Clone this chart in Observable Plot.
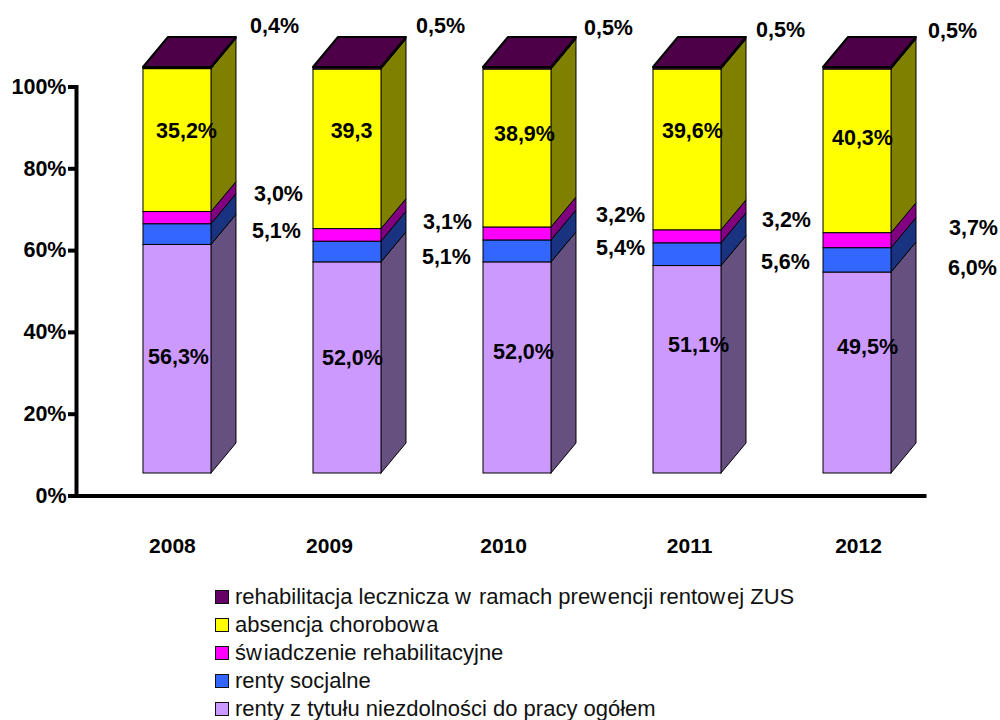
<!DOCTYPE html>
<html><head><meta charset="utf-8">
<script src="https://cdn.jsdelivr.net/npm/d3@7"></script>
<script src="https://cdn.jsdelivr.net/npm/@observablehq/plot@0.6"></script>
<style>
html,body{margin:0;padding:0;background:#fff;overflow:hidden}
#legend{position:absolute;left:215px;top:583px;font-family:"Liberation Sans",Arial,sans-serif;font-size:22px;line-height:28px;color:#111;white-space:pre}
#legend .row{display:flex;align-items:center;height:28px}
#legend .sw{width:12px;height:12px;border:1.5px solid #111;margin-right:6px;flex:none}
#legend .w{letter-spacing:.08em}
</style></head><body>
<div id="chart"></div><div id="legend"></div>
<script>
const years = ["2008","2009","2010","2011","2012"];
const rentyOgolem = [56.3,52.0,52.0,51.1,49.5];
const rentySocjalne = [5.1,5.1,5.4,5.6,6.0];
const swiadczenie = [3.0,3.1,3.2,3.2,3.7];
const absencja = [35.2,39.3,38.9,39.6,40.3];
const rehabilitacja = [0.4,0.5,0.5,0.5,0.5];
const absencjaLabels = ["35,2%","39,3","38,9%","39,6%","40,3%"];
const seriesNames = ["renty z tytułu niezdolności do pracy ogółem","renty socjalne","świadczenie rehabilitacyjne","absencja chorobowa","rehabilitacja lecznicza w ramach prewencji rentowej ZUS"];

const fronts = ["#CC99FF","#3366FF","#FF00FF","#FFFF00","#4D0047"];
const sides = ["#665080","#1A3380","#800080","#808000","#4D0047"];
const legendFills = ["#CC99FF","#3366FF","#FF00FF","#FFFF00","#660066"];
const seriesValues = [rentyOgolem,rentySocjalne,swiadczenie,absencja,rehabilitacja];

// where the reference puts each hand-placed label, in scale units
const labelX = [
  [0.006,1.029,2.035,3.065,4.059],
  [0.582,1.582,2.606,3.576,4.676],
  [0.594,1.588,2.606,3.582,4.682],
  [0.053,1.024,2.041,3.029,4.029],
  [0.571,1.547,2.535,3.547,4.559]];
const labelY = [
  [33.9,33.6,35.1,37.0,36.3],
  [64.7,58.3,60.5,57.3,55.6],
  [73.7,66.9,68.6,67.4,65.6],
  [89.1,89.1,88.6,89.1,87.4],
  [115.0,115.0,114.5,114.0,113.6]];
const yearLabelX = [-0.03,0.894,1.918,3.012,4.006];
const yearLabelY = -12.35;

// 3D projection of the bars, in scale units
const halfW = 0.2, depthX = 0.147, depthY = 7.33, floorY = 5.5, yK = 0.9927;

const seg=[], sideFaces=[], texts=[], topFaces=[];
years.forEach((yr,i)=>{
  let acc=0;
  seriesValues.forEach((vals,s)=>{
    const y1=floorY+acc*yK, y2=floorY+(acc+vals[i])*yK;
    acc+=vals[i];
    seg.push({i,s,x1:i-halfW,x2:i+halfW,y1,y2});
    sideFaces.push({id:`${i}-${s}`,s,x:i+halfW,y1,y2});
    sideFaces.push({id:`${i}-${s}`,s,x:i+halfW+depthX,y1:y1+depthY,y2:y2+depthY});
    const label = s===3 ? absencjaLabels[i] : vals[i].toFixed(1).replace(".",",")+"%";
    texts.push({x:labelX[s][i],y:labelY[s][i],label});
    if(s===4){
      topFaces.push({id:i,y:y2,x1:i-halfW,x2:i+halfW});
      topFaces.push({id:i,y:y2+depthY,x1:i-halfW+depthX,x2:i+halfW+depthX});
    }
  });
});
const yearRows = years.map((y,i)=>({x:yearLabelX[i],y:yearLabelY,label:y}));

const font='"Liberation Sans",Arial,sans-serif';
const chart = Plot.plot({
  width:1000,height:575,
  marginLeft:76,marginRight:76,marginTop:86.5,marginBottom:79.5,
  style:{background:"#fff",fontFamily:font},
  x:{type:"linear",domain:[-0.594,4.394],axis:null},
  y:{type:"linear",domain:[0,100]},
  marks:[
    Plot.areaY(sideFaces,{x:"x",y1:"y1",y2:"y2",z:"id",fill:d=>sides[d.s],stroke:"#000",strokeWidth:1}),
    Plot.rect(seg,{x1:"x1",x2:"x2",y1:"y1",y2:"y2",fill:d=>fronts[d.s],stroke:"#000",strokeWidth:1,inset:0}),
    Plot.areaX(topFaces,{y:"y",x1:"x1",x2:"x2",z:"id",fill:fronts[4],stroke:"#000",strokeWidth:2}),
    Plot.frame({anchor:"left",stroke:"#000",strokeWidth:4}),
    Plot.frame({anchor:"bottom",stroke:"#000",strokeWidth:4}),
    Plot.axisY({ticks:[0,20,40,60,80,100],tickSize:8,tickPadding:2,strokeWidth:4,label:null,
      tickFormat:d=>d+"%",fontSize:21.5,fontWeight:"bold",fill:"#000",stroke:"#000"}),
    Plot.text(texts,{x:"x",y:"y",text:"label",fontSize:21.5,fontWeight:"bold",fill:"#000"}),
    Plot.text(yearRows,{x:"x",y:"y",text:"label",fontSize:21,fontWeight:"bold",fill:"#000"})
  ]
});
document.getElementById("chart").appendChild(chart);

const legend=document.getElementById("legend");
seriesNames.map((n,s)=>[n,s]).reverse().forEach(([n,s])=>{
  const r=document.createElement("div");r.className="row";
  const sw=document.createElement("span");sw.className="sw";sw.style.background=legendFills[s];
  const t=document.createElement("span");
  t.innerHTML=n.replace(/w/g,'<span class="w">w</span>');
  r.append(sw,t);legend.append(r);
});
</script></body></html>
